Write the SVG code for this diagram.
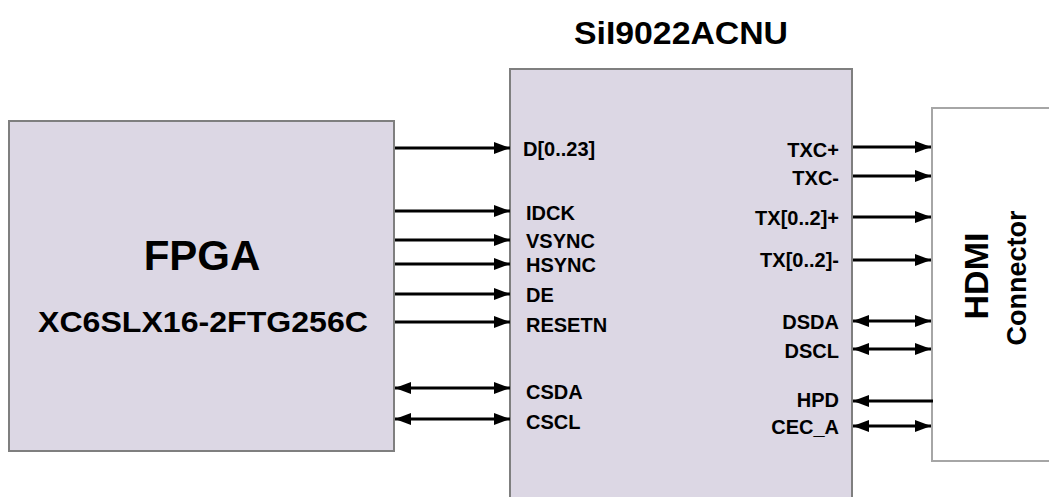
<svg xmlns="http://www.w3.org/2000/svg" width="1049" height="497" viewBox="0 0 1049 497">
<style>
text{font-family:"Liberation Sans",Arial,sans-serif;font-weight:bold;fill:#000}
.box{fill:#dcd7e4;stroke:#7f7f7f;stroke-width:2}
.hbox{fill:#fff;stroke:#a6a6a6;stroke-width:2}
.sig{font-size:20px}
.r{text-anchor:end}
.c line{stroke:#000;stroke-width:3}
</style>
<defs>
<marker id="ah" markerUnits="userSpaceOnUse" markerWidth="18" markerHeight="14" refX="16" refY="6.5" orient="auto-start-reverse" viewBox="0 0 18 14">
<path d="M0,0.5 L16,6.5 L0,12.5 z" fill="#000"/>
</marker>
</defs>
<rect width="1049" height="497" fill="#fff"/>
<g id="fpga">
<rect class="box" x="9" y="121" width="385" height="330"/>
<text x="202" y="270" font-size="42" text-anchor="middle">FPGA</text>
<text x="203" y="332" font-size="30" text-anchor="middle" textLength="330" lengthAdjust="spacingAndGlyphs">XC6SLX16-2FTG256C</text>
</g>
<g id="sii9022">
<rect class="box" x="510" y="69" width="342" height="440"/>
<text x="681" y="44" font-size="31" text-anchor="middle" textLength="214" lengthAdjust="spacingAndGlyphs">SiI9022ACNU</text>
<text class="sig" x="523" y="156">D[0..23]</text>
<text class="sig" x="526" y="220">IDCK</text>
<text class="sig" x="526" y="248">VSYNC</text>
<text class="sig" x="526" y="272">HSYNC</text>
<text class="sig" x="526" y="302">DE</text>
<text class="sig" x="526" y="332">RESETN</text>
<text class="sig" x="526" y="399">CSDA</text>
<text class="sig" x="526" y="429">CSCL</text>
<text class="sig r" x="839" y="157">TXC+</text>
<text class="sig r" x="839" y="185">TXC-</text>
<text class="sig r" x="839" y="225">TX[0..2]+</text>
<text class="sig r" x="839" y="267">TX[0..2]-</text>
<text class="sig r" x="839" y="329">DSDA</text>
<text class="sig r" x="839" y="358">DSCL</text>
<text class="sig r" x="839" y="407">HPD</text>
<text class="sig r" x="839" y="434">CEC_A</text>
</g>
<g id="hdmi">
<rect class="hbox" x="932" y="108" width="130" height="353"/>
<text transform="translate(988,276) rotate(-90)" font-size="34" text-anchor="middle">HDMI</text>
<text transform="translate(1026,278) rotate(-90)" font-size="27" text-anchor="middle">Connector</text>
</g>
<g id="connectors" class="c">
<line x1="395" y1="148" x2="510" y2="148" marker-end="url(#ah)"/>
<line x1="395" y1="211" x2="510" y2="211" marker-end="url(#ah)"/>
<line x1="395" y1="240" x2="510" y2="240" marker-end="url(#ah)"/>
<line x1="395" y1="264" x2="510" y2="264" marker-end="url(#ah)"/>
<line x1="395" y1="294" x2="510" y2="294" marker-end="url(#ah)"/>
<line x1="395" y1="322" x2="510" y2="322" marker-end="url(#ah)"/>
<line x1="395" y1="388" x2="510" y2="388" marker-start="url(#ah)" marker-end="url(#ah)"/>
<line x1="395" y1="419" x2="510" y2="419" marker-start="url(#ah)" marker-end="url(#ah)"/>
<line x1="853" y1="147" x2="931" y2="147" marker-end="url(#ah)"/>
<line x1="853" y1="176" x2="931" y2="176" marker-end="url(#ah)"/>
<line x1="853" y1="217" x2="931" y2="217" marker-end="url(#ah)"/>
<line x1="853" y1="260" x2="931" y2="260" marker-end="url(#ah)"/>
<line x1="853" y1="321" x2="931" y2="321" marker-start="url(#ah)" marker-end="url(#ah)"/>
<line x1="853" y1="349" x2="931" y2="349" marker-start="url(#ah)" marker-end="url(#ah)"/>
<line x1="933" y1="401" x2="853" y2="401" marker-end="url(#ah)"/>
<line x1="853" y1="426" x2="931" y2="426" marker-start="url(#ah)" marker-end="url(#ah)"/>
</g>
</svg>
